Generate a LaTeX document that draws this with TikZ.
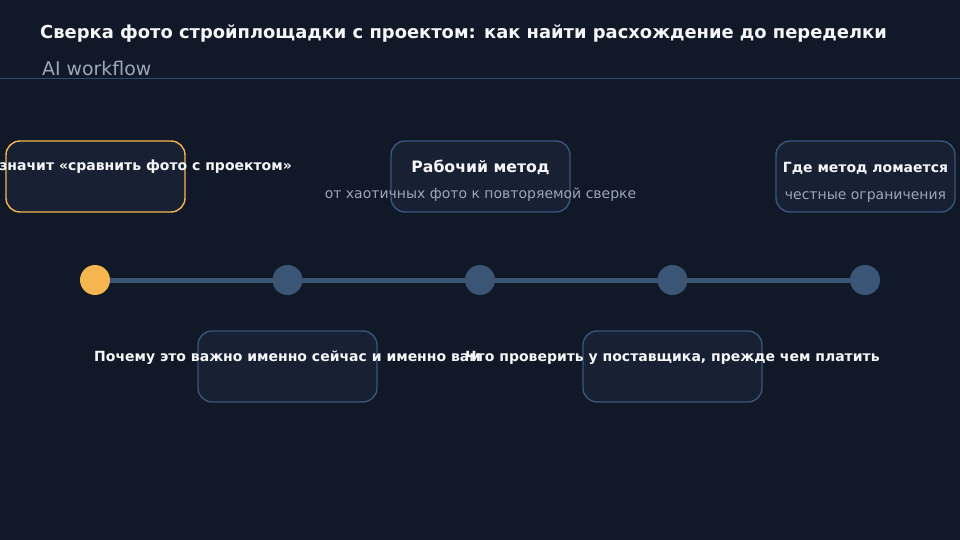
\documentclass[tikz,border=0pt]{standalone}
\usepackage{fontspec}
\setmainfont{DejaVu Sans}
\usetikzlibrary{backgrounds}
\definecolor{bgc}{HTML}{111827}
\definecolor{boxfill}{HTML}{172133}
\definecolor{boxedge}{HTML}{3A5579}
\definecolor{accent}{HTML}{F5B54F}
\definecolor{dotc}{HTML}{3A5576}
\definecolor{titlec}{HTML}{F5F6F8}
\definecolor{subc}{HTML}{9AA6BA}
\definecolor{rulec}{HTML}{2F4A6C}
\tikzset{
  stagebox/.style={draw=boxedge, fill=boxfill, line width=1.4pt, rounded corners=14pt,
    minimum width=179pt, minimum height=71pt, inner sep=0pt},
  activebox/.style={stagebox, draw=accent},
  stagetitle/.style={anchor=base, text=titlec, font=\bfseries\fontsize{14}{16}\selectfont, inner sep=0pt},
  stagesub/.style={anchor=base, text=subc, font=\fontsize{14}{16}\selectfont, inner sep=0pt},
  dot/.style={circle, fill=dotc, minimum size=30pt, inner sep=0pt},
  activedot/.style={dot, fill=accent},
  track/.style={draw=dotc, line width=5pt}
}
\begin{document}
\begin{tikzpicture}[x=1pt,y=-1pt]
\begin{scope}[on background layer]
\fill[bgc] (0,0) rectangle (960,540);
\end{scope}
\useasboundingbox (0,0) rectangle (960,540);
% header
\node[anchor=base west, inner sep=0pt, text=titlec, font=\bfseries\fontsize{17.9}{21}\selectfont] (title) at (40,39)
  {Сверка фото стройплощадки с проектом: как найти расхождение до переделки};
\node[anchor=base west, inner sep=0pt, text=subc, font=\fontsize{18.9}{22}\selectfont] (subtitle) at (42,76) {AI workflow};
\coordinate (ruleL) at (0,78);
\coordinate (ruleR) at (960,78);
\draw[rulec, line width=0.8pt] (ruleL) -- (ruleR);
% dots
\node[activedot] (d1) at (95,280) {};
\node[dot] (d2) at (287.5,280) {};
\node[dot] (d3) at (480,280) {};
\node[dot] (d4) at (672.5,280) {};
\node[dot] (d5) at (865,280) {};
\begin{scope}[on background layer]
\draw[track] (d1.center) -- (d2.center);
\draw[track] (d2.center) -- (d3.center);
\draw[track] (d3.center) -- (d4.center);
\draw[track] (d4.center) -- (d5.center);
\end{scope}
% boxes
\node[activebox] (b1) at (95.5,176.5) {};
\node[stagebox] (b2) at (480.5,176.5) {};
\node[stagebox] (b3) at (865.5,176.5) {};
\node[stagebox] (b4) at (287.5,366.5) {};
\node[stagebox] (b5) at (672.5,366.5) {};
% texts
\node[stagetitle, anchor=base east] (t1) at (292,171) {Что значит «сравнить фото с проектом»};
\node[stagetitle, font=\bfseries\fontsize{15.7}{18}\selectfont] (t2) at (480.5,172.5) {Рабочий метод};
\node[stagesub] (s2) at (480.5,198) {от хаотичных фото к повторяемой сверке};
\node[stagetitle] (t3) at (865.5,172.5) {Где метод ломается};
\node[stagesub] (s3) at (865.5,199) {честные ограничения};
\node[stagetitle] (t4) at (287.5,361.5) {Почему это важно именно сейчас и именно вам};
\node[stagetitle] (t5) at (672.5,361.5) {Что проверить у поставщика, прежде чем платить};
\end{tikzpicture}
\end{document}
